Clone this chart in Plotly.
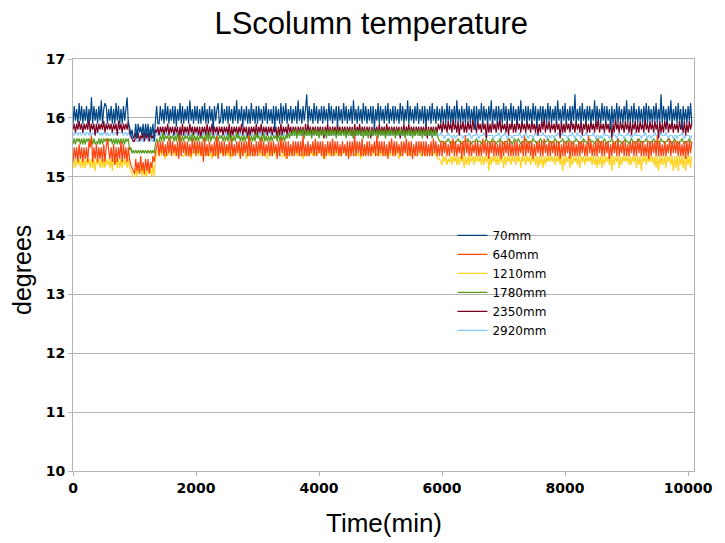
import plotly.graph_objects as go

# Each character is one reading: index in LEVELS -> 15.00 + 0.05 * index (degrees)
LEVELS = "0123456789ABCDEFGHIJKLMNOPQRS"
STEP_MIN = 20  # minutes between readings

names = ["70mm", "640mm", "1210mm", "1780mm", "2350mm", "2920mm"]
colors = ["#004586", "#ff420e", "#ffd320", "#579d1c", "#7e0021", "#83caff"]

s70 = [
    "IOJNIPJOIN", "JOINJRIOJN", "IOJQINPOIN", "JOINIPJOIN", "IOJNRIHEGD",
    "EIDIFHEIDI", "EIDHEICJOI",
    "IOJNIPJOIN", "JOIOHNJPIO", "INJOIQJNIO", "JOINIOJPIN", "IOJNGOJNPI",
    "JPINJOIOJN", "IOJQINJOHN", "JOINIPJNIO", "IOJNIOJPIN", "JNIOGOJNIP",
    "IOJPINJOIN", "JOIQJNIOJN", "SIOJNIPJOI", "NJOIOJNIPJ", "OINJOHOJNI",
    "PJOINJOIQJ", "NIOJNIPJOI", "NJOIOGNJPI", "OJNIOJPINJ", "OIOJNIPJOI",
    "NJQIOJNIOJ", "PINJOIOHNJ", "OIPJNIOJNI",
    "OJNIPJOINJ", "OIQJNIOJNI", "PJOINJOGOI", "NJPIOJNIOJ", "QINJOIOJNI",
    "PJOINJPIOJ", "NIOJQINJOI", "OJNIPJOHNJ", "OIOJNIPJOI", "NJOIQJNIOJ",
    "PINJOIOJSI", "NJOIPJNIOJ", "OINJQIOJNI", "PJOIOJNGOI", "NJPIOJNIOJ",
    "QINJOIPJNI", "OJNIOJPIOJ", "NIOJPINJSI", "OJNIOJQINJ", "OIPJNGOJNI",
    "OJPI",
]
s640 = [
    "5A6A5B6A5A", "6A5CAE5A6B", "5A6A5B5AD9", "6A5B4A5A6C", "5B6A5A6432",
    "1625172516", "26153758AC",
    "7C8C7B7C8D", "7C8B7C6E7C", "8C7C7B7D8C", "7C8C7C5D7B", "7C8B7C7E6C",
    "8C7C7B8C7D", "7B7C8C6C7C", "8C7E7C7B7C", "7C8D7C7B8C", "7C7C8B6C7D",
    "8C7C6C7B7C", "7C8C7C7E7B", "7C7B8C7D7C", "8C7C6B7C8C", "7D7C8C7B7C",
    "8B7C6C7C7E", "7C8C7D7B7C", "7C7B8C7E7C", "8C7C7B6C8D", "7C7C8B7C7C",
    "8D7C7C6B7C", "7C8C7C7C7B", "7C7D8C7B7C",
    "7C8C7B7C8D", "7C7B8C6C7E", "8C7C7B8C7C", "7B7D8C7C6C", "8C7C7B7C6C",
    "7C8C7D7B7C", "7C7B8C7E7C", "8C7C6B7C8C", "7C7D8B7C7C", "8C7C7C6B7C",
    "7C8C6C7C7B", "7C7C8C7B7E", "8C7B7C7D8C", "7C7C8C6B7C", "8C7D7B8C7C",
    "7B7C8C7C7D", "8C7C7B7C6C", "7C8C7E7C7B", "7C7B8D7C8C", "8C7C7B7C6C",
    "7C8C",
]
s1210 = [
    "3636463636", "3646363626", "4636363646", "3626463636", "3646363210",
    "0304130402", "0413040689",
    "8979869789", "9878978987", "7898796898", "8979878987", "9786979878",
    "8978987968", "7989878979", "8697898789", "9878979868", "8979878987",
    "7896978987", "8979878697", "9878979878", "8987968979", "7898789878",
    "8979878987", "9878697898", "8987897879", "7898789878", "8979869789",
    "9878978987", "8987897889", "9878977665",
    "4757465747", "5747475737", "4747574757", "5747475727", "4757474757",
    "3747574757", "4757375747", "5747574737", "4737475757", "5747574727",
    "4757374757", "4737574757", "5747473747", "3747574727", "4757374757",
    "5747475737", "4727574757", "5747372747", "4737574727", "3727473727",
    "4737",
]
s1780 = [
    "BDBDCDBDBD", "BDCDBDBDBC", "BDBDBDCDBD", "CDBDBDBDBD", "BDBDCD9A89",
    "8989898989", "8989898BDC",
    "CECFCEDECE", "DECECFCECE", "CEDECECFCE", "CECEDECECF", "CFCEDECECE",
    "DECECECFCE", "CECFDECECE", "CEDECECECF", "DECECFCECE", "CECEDECFCE",
    "CECEDFDFEG", "EGDGEGEGDG", "EGEGDGEGEG", "DGEGEGDGEG", "EGEGDGEGEG",
    "EGDGEGEGDG", "EGEGEGDGEG", "DGEGEGEGDG", "EGEGDGEGEG", "EGDGEGEGEG",
    "DGEGEGDGEG", "EGEGDGEGEG", "EGDGEGEDCC",
    "CCBCCDCBCC", "BCCDCCBCCC", "CDCCBCCCDC", "CCBCCCDCCB", "CDCCBCCDCC",
    "BCCCDCCBCD", "CCDCBCCCDC", "CBCCDCCBCC", "DCCBCCDCCB", "CCDCCBCCDC",
    "CBCDCCBCCD", "CCBCCDCCBC", "DCCCBCDCCB", "CCDCBCCCDC", "BCCDCCBCCD",
    "CCBCDCCBCC", "DCCBCCDCCB", "CCDCCBCCDC", "CBCCDCCBCD", "CCBCCDCBCC",
    "CDCB",
]
s2350 = [
    "GIFIGJGIFI", "GIGKFIGIEI", "FIGIGJFIGI", "GIFIGIEJGI", "FIGIGJFEDC",
    "CFDFCEDFCF", "DFCFDEDGFH",
    "EHFHEHFIEH", "FHEHFHDHEI", "EHFHEIFHEH", "FHEHDHFHEI", "EHFIEHFHEH",
    "FHEHFHEIDH", "EHFHEHFIEH", "FHDHEHFHEI", "EHFIEHFHEH", "FHEHFHDHEI",
    "EHFHEIFHEH", "FHEHFHEHDI", "EIFHEHFHEH", "FHEHDHFIEH", "EHFHEIFHEH",
    "FHEHFHEHDI", "EHFIEHFHEH", "FHDHEHFHEI", "EHFHEIFHEH", "FHEHFHDHEI",
    "EHFIEHFHEH", "FHEHFHEIDH", "EHFHEHFIGI",
    "FJGIFJGIFK", "GIFJEIGJFI", "FJGIFKGIFJ", "GIFJGIDJFI", "FJGIFJGKFI",
    "GIFJEIGJFI", "FKGIFJGIFJ", "GIFJGIFJEI", "FJGKFIGJFI", "GIFJGIDJFI",
    "FJGIFKGIFJ", "GIFJEIGJFI", "FJGIFJGKFI", "GIFJGIFJDI", "FKGIFJGIFJ",
    "GIFJEIGJFI", "FJGIFKGIFJ", "GIFJGIDJFI", "FJGKFIGJFI", "GIFJGIFJEI",
    "FJGI",
]
s2920 = [
    "FEFFEFFEFF", "EFFEFEFFEF", "FFEFEFFEFE", "EFFEFFEFFF", "FEFFEFEDDC",
    "CDCCDCDCCD", "DCDCDCCEEF",
    "EFEEFEFEEF", "FEEFEFEEFE", "EEFEFEEFEF", "FEFEEFEFEE", "EFEFEEFEFE",
    "EEFEFEFEEF", "FEEFEEFEFE", "EFEFEFEEFE", "EEFEEFEFEF", "FEFEEFEEFE",
    "EFEEFEFEFE", "EEFEFEEFEF", "FEFEEFEFEE", "EFEFEEFEFE", "EEFEFEFEEF",
    "FEEFEEFEFE", "EFEFEFEEFE", "EEFEEFEFEF", "FEFEEFEEFE", "EFEEFEFEFE",
    "EFEEFEEFEF", "FEEFEFEEFE", "EFEEFEFEEF",
    "EEDEEFEEDE", "EDEEFEEDEE", "EEFEDEEEFE", "DEEEFEDEEE", "EEDEEEFEDE",
    "EFEDEEEDEE", "EEEFEDEEFE", "DEEEDEFEEE", "EEFEEDEEDE", "EDEEFEEEFE",
    "EEDEEEFEDE", "FEEDEEEFEE", "EEEFEDEEDE", "DEFEEEDEEF", "EEDEFEEEDE",
    "EFEEDEEFEE", "EEDEEFEDEE", "DEEFEEDEFE", "EEFEDEEEDE", "EDEEEFEDEE",
    "EEDE",
]

readings = {
    "70mm": "".join(s70),
    "640mm": "".join(s640),
    "1210mm": "".join(s1210),
    "1780mm": "".join(s1780),
    "2350mm": "".join(s2350),
    "2920mm": "".join(s2920),
}

x_ticks = [0, 2000, 4000, 6000, 8000, 10000]
y_ticks = [10, 11, 12, 13, 14, 15, 16, 17]

draw_order = ["2920mm", "2350mm", "1210mm", "1780mm", "640mm", "70mm"]

fig = go.Figure()
for name in draw_order:
    code = readings[name]
    vals = [15.0 + 0.05 * LEVELS.index(c) for c in code]
    times = [STEP_MIN * i for i in range(len(vals))]
    k = names.index(name)
    fig.add_trace(go.Scatter(
        x=times, y=vals, mode="lines", name=name,
        line=dict(color=colors[k], width=1.2, simplify=False),
        legendrank=k + 1,
    ))

grid = "#b3b3b3"
fig.update_layout(
    width=725, height=543,
    margin=dict(l=73, r=23, t=59, b=72),
    paper_bgcolor="white", plot_bgcolor="white",
    title=dict(text="LScolumn temperature", x=0.512, xref="container", xanchor="center",
               y=0.958, yref="container", yanchor="middle",
               font=dict(family="Liberation Sans", size=31, color="black")),
    showlegend=True,
    legend=dict(x=0.611, y=0.607, xanchor="left", yanchor="top",
                bgcolor="rgba(0,0,0,0)", borderwidth=0,
                font=dict(family="DejaVu Sans", size=12, color="black"),
                tracegroupgap=0),
    annotations=[
        dict(text="degrees", x=-0.082, y=0.488, xref="paper", yref="paper",
             textangle=-90, showarrow=False, xanchor="center", yanchor="middle",
             font=dict(family="Liberation Sans", size=25, color="black")),
        dict(text="Time(min)", x=0.5016, y=-0.126, xref="paper", yref="paper",
             showarrow=False, xanchor="center", yanchor="middle",
             font=dict(family="Liberation Sans", size=26, color="black")),
    ],
)
fig.update_xaxes(range=[0, 10096], tickvals=x_ticks, ticktext=[str(v) for v in x_ticks],
                 showgrid=False, zeroline=False, showline=True, linecolor=grid, linewidth=1,
                 mirror=True, ticks="outside", ticklen=4, tickcolor=grid,
                 tickfont=dict(family="DejaVu Sans", size=14, color="black", weight="bold"))
fig.update_yaxes(range=[10, 17], tickvals=y_ticks, ticktext=[str(v) for v in y_ticks],
                 showgrid=True, gridcolor=grid, gridwidth=1, zeroline=False,
                 showline=True, linecolor=grid, linewidth=1, mirror=True,
                 ticks="outside", ticklen=4, tickcolor=grid,
                 tickfont=dict(family="DejaVu Sans", size=14, color="black", weight="bold"))

fig.write_html("out.html")
